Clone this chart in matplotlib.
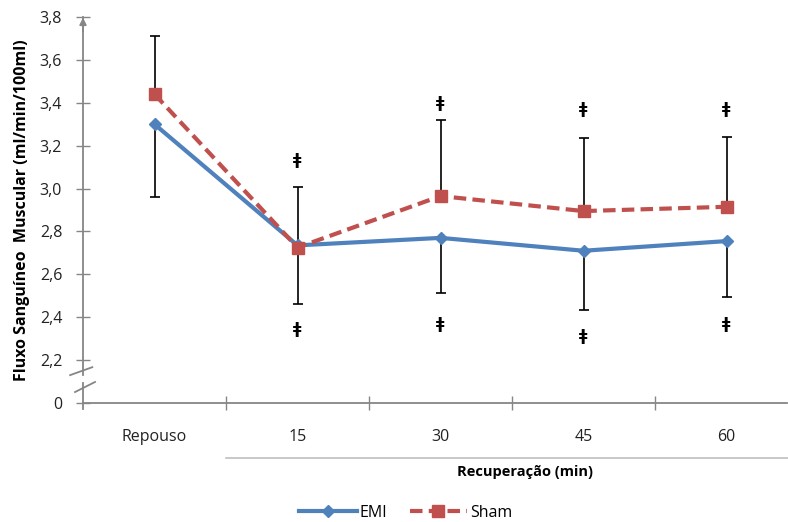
import matplotlib.pyplot as plt
import numpy as np

plt.rcParams['font.family'] = ['Open Sans', 'DejaVu Sans']

momentos = ['Repouso', '15', '30', '45', '60']
emi = [3.30, 2.735, 2.77, 2.71, 2.755]
sham = [3.44, 2.725, 2.965, 2.895, 2.915]
emi_dp = [0.34, 0.275, 0.255, 0.275, 0.26]     # desvio para baixo (EMI)
sham_dp = [0.27, 0.28, 0.355, 0.34, 0.325]     # desvio para cima (Sham)
simb_cima = [3.13, 3.395, 3.37, 3.37]          # ǂ acima, 15 a 60 min
simb_baixo = [2.345, 2.365, 2.31, 2.365]       # ǂ abaixo, 15 a 60 min

azul = '#4F81BD'
vermelho = '#C0504D'
cinza = '#868686'

fig = plt.figure(figsize=(7.88, 5.22), dpi=100)
ax = fig.add_axes([83/788, 119/522, 704/788, 386/522])
x = np.arange(len(momentos))

ax.plot(x, emi, color=azul, lw=3, marker='D', ms=6.5, label='EMI', zorder=3)
ax.plot(x, sham, color=vermelho, lw=3, ls=(0, (3.0, 1.5)), marker='s', ms=8.5,
        label='Sham', zorder=4)
ax.errorbar(x, sham, yerr=[np.zeros(5), sham_dp], fmt='none', ecolor='black',
            elinewidth=1.2, capsize=3.5, capthick=1.2, zorder=2)
ax.errorbar(x, emi, yerr=[emi_dp, np.zeros(5)], fmt='none', ecolor='black',
            elinewidth=1.2, capsize=3.5, capthick=1.2, zorder=2)

for xi, yc, yb in zip(x[1:], simb_cima, simb_baixo):
    ax.text(xi, yc, 'ǂ', ha='center', va='center', fontsize=11, fontweight='bold',
            family='DejaVu Sans')
    ax.text(xi, yb, 'ǂ', ha='center', va='center', fontsize=11, fontweight='bold',
            family='DejaVu Sans')

ax.set_xlim(-0.5, -0.5 + 704/143)
ax.set_ylim(2.0, 3.8)

# eixo y com quebra entre 0 e 2,2
ax.set_yticks(np.arange(2.0, 3.81, 0.2))
ax.set_yticklabels(['0'] + [f'{v:.1f}'.replace('.', ',') for v in np.arange(2.2, 3.81, 0.2)])
ax.set_xticks(x)
ax.set_xticklabels(momentos)
ax.set_xticks(x[:-1] + 0.5, minor=True)
ax.tick_params(axis='x', which='major', length=0, pad=19, labelsize=11.5, colors='#222222')
ax.tick_params(axis='x', which='minor', direction='inout', length=10, color=cinza, width=1)
ax.tick_params(axis='y', direction='inout', length=10, color=cinza, width=1,
               labelsize=11.5, labelcolor='#222222', pad=10)

for s in ['top', 'right']:
    ax.spines[s].set_visible(False)
ax.spines['bottom'].set_color(cinza)
ax.spines['bottom'].set_linewidth(1.3)
ax.spines['left'].set_color(cinza)
ax.spines['left'].set_linewidth(1.3)
ax.spines['left'].set_bounds(2.13, 3.8)

x0 = ax.get_xlim()[0]
ax.plot([x0, x0], [2.095, 1.97], color=cinza, lw=1.3, clip_on=False)
ax.plot([x0 - 0.09, x0 + 0.065], [2.13, 2.167], color=cinza, lw=1.3, clip_on=False)
ax.plot([x0 - 0.056, x0 + 0.084], [2.051, 2.098], color=cinza, lw=1.3, clip_on=False)
ax.annotate('', xy=(x0, 3.81), xytext=(x0, 3.72),
            arrowprops=dict(arrowstyle='-|>', color=cinza, lw=1.3, mutation_scale=10),
            annotation_clip=False)

ax.set_ylabel('Fluxo Sanguíneo  Muscular (ml/min/100ml)', fontsize=11.5, fontweight='bold')
ax.yaxis.set_label_coords(-0.075, 0.50)

# faixa da recuperação
fig.add_artist(plt.Line2D([226/788, 1.0], [64/522, 64/522], color='#bfbfbf', lw=1.2))
fig.text(525/788, 50/522, 'Recuperação (min)', ha='center', va='center',
         fontsize=10.5, fontweight='bold')

fig.legend(loc='center', bbox_to_anchor=(0.515, 9/522), ncol=2, frameon=False,
           fontsize=11.5, handlelength=3.6, columnspacing=1.4, handletextpad=0.2)

fig.savefig('out.png', dpi=100)
